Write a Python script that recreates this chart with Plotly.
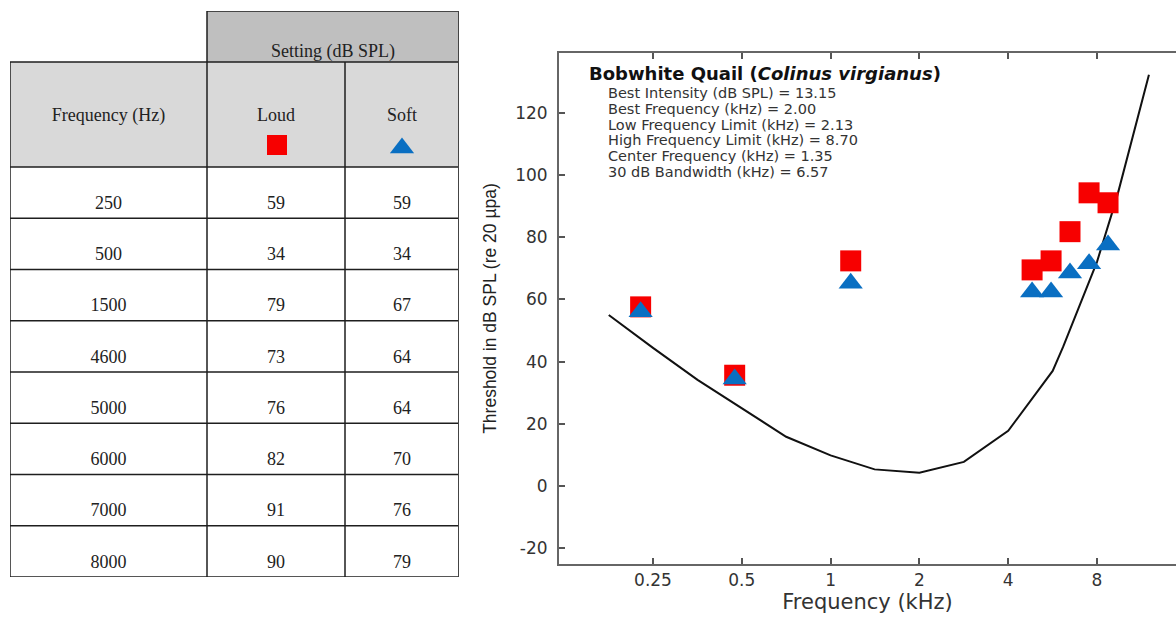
import plotly.graph_objects as go

# ---------------- data: table ----------------
table_col_titles = ["Frequency (Hz)", "Loud", "Soft"]
table_group_title = "Setting (dB SPL)"
table_freq_hz = [250, 500, 1500, 4600, 5000, 6000, 7000, 8000]
table_loud = [59, 34, 79, 73, 76, 82, 91, 90]
table_soft = [59, 34, 67, 64, 64, 70, 76, 79]

# ---------------- data: chart ----------------
loud_freq_khz = [0.227, 0.473, 1.17, 4.82, 5.59, 6.48, 7.52, 8.72]
loud_db = [57.6, 35.6, 72.4, 69.5, 72.4, 81.8, 94.3, 91.1]
soft_freq_khz = [0.227, 0.473, 1.17, 4.82, 5.59, 6.48, 7.52, 8.72]
soft_db = [56.0, 34.4, 65.2, 62.4, 62.4, 68.5, 71.5, 77.5]

curve_freq_khz = [0.177, 0.25, 0.354, 0.5, 0.707, 1.0, 1.41, 2.0, 2.83, 4.0,
                  5.66, 6.14, 6.90, 8.0, 9.35, 12.0]
curve_db = [55.0, 44.4, 34.1, 25.1, 15.8, 9.8, 5.3, 4.2, 7.7, 17.7,
            37.0, 44.7, 56.6, 72.1, 93.0, 132.3]

x_tickvals = [0.25, 0.5, 1, 2, 4, 8]
x_ticktext = ["0.25", "0.5", "1", "2", "4", "8"]
y_tickvals = [-20, 0, 20, 40, 60, 80, 100, 120]
y_ticktext = ["-20", "0", "20", "40", "60", "80", "100", "120"]

chart_title = "<b>Bobwhite Quail (<i>Colinus virgianus</i>)</b>"
info_labels = ["Best Intensity (dB SPL)", "Best Frequency (kHz)",
               "Low Frequency Limit (kHz)", "High Frequency Limit (kHz)",
               "Center Frequency (kHz)", "30 dB Bandwidth (kHz)"]
info_values = ["13.15", "2.00", "2.13", "8.70", "1.35", "6.57"]

# ---------------- layout constants ----------------
W, H = 1176, 617
RED = "#f70000"
BLUE = "#0a6fc2"


def px(x):
    return x / W


def py(y):
    return 1 - y / H


fig = go.Figure()

# ---------- chart ----------
fig.add_trace(go.Scatter(x=curve_freq_khz, y=curve_db, mode="lines",
                         line=dict(color="#111111", width=2),
                         xaxis="x", yaxis="y", showlegend=False, hoverinfo="skip"))
fig.add_trace(go.Scatter(x=loud_freq_khz, y=loud_db, mode="markers",
                         marker=dict(symbol="square", size=21, color=RED),
                         xaxis="x", yaxis="y", showlegend=False))
fig.add_trace(go.Scatter(x=soft_freq_khz, y=soft_db, mode="markers",
                         marker=dict(symbol="triangle-up", size=21, color=BLUE),
                         xaxis="x", yaxis="y", showlegend=False))

# ---------- table (drawn on its own hidden axes, in pixel-like units) ----------
col_edges = [10, 207, 345, 459]
head1_top, head2_top, body_top, body_bottom = 11, 62, 167, 577
n_rows = len(table_freq_hz)
row_h = (body_bottom - body_top) / n_rows
row_edges = [body_top + i * row_h for i in range(n_rows + 1)]

shapes = []
LINE = dict(color="#1e1e1e", width=1.5)
shapes.append(dict(type="rect", xref="x2", yref="y2", x0=col_edges[1], x1=col_edges[3],
                   y0=head1_top, y1=head2_top, fillcolor="#bfbfbf", line=dict(width=0), layer="below"))
shapes.append(dict(type="rect", xref="x2", yref="y2", x0=col_edges[0], x1=col_edges[3],
                   y0=head2_top, y1=body_top, fillcolor="#d9d9d9", line=dict(width=0), layer="below"))
# horizontal lines
shapes.append(dict(type="line", xref="x2", yref="y2", x0=col_edges[1], x1=col_edges[3],
                   y0=head1_top, y1=head1_top, line=LINE))
for yy in [head2_top] + row_edges:
    shapes.append(dict(type="line", xref="x2", yref="y2", x0=col_edges[0], x1=col_edges[3],
                       y0=yy, y1=yy, line=LINE))
# vertical lines
shapes.append(dict(type="line", xref="x2", yref="y2", x0=col_edges[0], x1=col_edges[0],
                   y0=head2_top, y1=body_bottom, line=LINE))
shapes.append(dict(type="line", xref="x2", yref="y2", x0=col_edges[1], x1=col_edges[1],
                   y0=head1_top, y1=body_bottom, line=LINE))
shapes.append(dict(type="line", xref="x2", yref="y2", x0=col_edges[2], x1=col_edges[2],
                   y0=head2_top, y1=body_bottom, line=LINE))
shapes.append(dict(type="line", xref="x2", yref="y2", x0=col_edges[3], x1=col_edges[3],
                   y0=head1_top, y1=body_bottom, line=dict(color="#444444", width=2)))

col_centers = [(col_edges[i] + col_edges[i + 1]) / 2 for i in range(3)]
row_text_y = [row_edges[i + 1] - 14 for i in range(n_rows)]

TFONT = dict(family="Liberation Serif, Times New Roman, serif", size=18, color="#222222")

# header texts
fig.add_trace(go.Scatter(
    x=[(col_edges[1] + col_edges[3]) / 2] + col_centers,
    y=[52, 116, 116, 116],
    text=[table_group_title] + table_col_titles,
    mode="text", textposition="middle center", textfont=TFONT,
    xaxis="x2", yaxis="y2", showlegend=False, hoverinfo="skip"))
# body texts
body_x, body_y, body_t = [], [], []
for i in range(n_rows):
    for c, v in enumerate([table_freq_hz[i], table_loud[i], table_soft[i]]):
        body_x.append(col_centers[c])
        body_y.append(row_text_y[i])
        body_t.append(str(v))
fig.add_trace(go.Scatter(x=body_x, y=body_y, text=body_t, mode="text",
                         textposition="middle center", textfont=TFONT,
                         xaxis="x2", yaxis="y2", showlegend=False, hoverinfo="skip"))
# header legend symbols
fig.add_trace(go.Scatter(x=[col_centers[1] + 1], y=[145], mode="markers",
                         marker=dict(symbol="square", size=20, color=RED),
                         xaxis="x2", yaxis="y2", showlegend=False, hoverinfo="skip"))
fig.add_trace(go.Scatter(x=[col_centers[2]], y=[148], mode="markers",
                         marker=dict(symbol="triangle-up", size=21, color=BLUE),
                         xaxis="x2", yaxis="y2", showlegend=False, hoverinfo="skip"))

# ---------- annotations (chart title block) ----------
annotations = [dict(text=chart_title, xref="paper", yref="paper", x=px(587), y=py(73),
                    xanchor="left", yanchor="middle", showarrow=False,
                    font=dict(family="DejaVu Sans", size=18, color="#111111"))]
for i, (lab, val) in enumerate(zip(info_labels, info_values)):
    annotations.append(dict(text=f"{lab} = {val}", xref="paper", yref="paper",
                            x=px(606), y=py(93 + i * 15.8), xanchor="left", yanchor="middle",
                            showarrow=False,
                            font=dict(family="DejaVu Sans", size=14.5, color="#333333")))

TICKFONT = dict(family="DejaVu Sans", size=17, color="#333333")
fig.update_layout(
    width=W, height=H, margin=dict(l=0, r=0, t=0, b=0),
    paper_bgcolor="white", plot_bgcolor="rgba(0,0,0,0)",
    xaxis=dict(domain=[px(559), 1.0], type="log", range=[-0.9207, 1.1709],
               tickvals=x_tickvals, ticktext=x_ticktext, ticks="inside", ticklen=6,
               tickwidth=1.5, tickcolor="#555555", showline=True, linecolor="#666666",
               linewidth=2, mirror="ticks", showgrid=False, zeroline=False,
               tickfont=TICKFONT, anchor="y",
               title=dict(text="Frequency (kHz)", standoff=5,
                          font=dict(family="DejaVu Sans", size=21, color="#333333"))),
    yaxis=dict(domain=[py(564), py(53)], range=[-25.15, 139.3], tickvals=y_tickvals,
               ticktext=y_ticktext,
               ticks="inside", ticklen=6, tickwidth=1.5, tickcolor="#555555",
               showline=True, linecolor="#666666", linewidth=2, mirror=False,
               showgrid=False, zeroline=False, tickfont=TICKFONT, anchor="x",
               ticklabelstandoff=6,
               title=dict(text="Threshold in dB SPL (re 20 \u00b5pa)", standoff=14,
                          font=dict(family="Liberation Sans, Arial", size=17.5,
                                    color="#222222"))),
    yaxis3=dict(overlaying="y", side="right", anchor="x", range=[-25.15, 139.3],
                tickvals=y_tickvals, ticks="inside", ticklen=6, tickwidth=1.5,
                tickcolor="#555555", showline=False, showticklabels=False,
                showgrid=False, zeroline=False),
    xaxis2=dict(domain=[px(col_edges[0]), px(col_edges[3])],
                range=[col_edges[0], col_edges[3]], visible=False, anchor="y2"),
    yaxis2=dict(domain=[py(body_bottom), py(head1_top)],
                range=[body_bottom, head1_top], visible=False, anchor="x2"),
    shapes=shapes, annotations=annotations,
)

fig.write_html("out.html", config={"displayModeBar": False},
               post_script="document.body.style.margin='0';document.body.style.overflow='hidden';")
